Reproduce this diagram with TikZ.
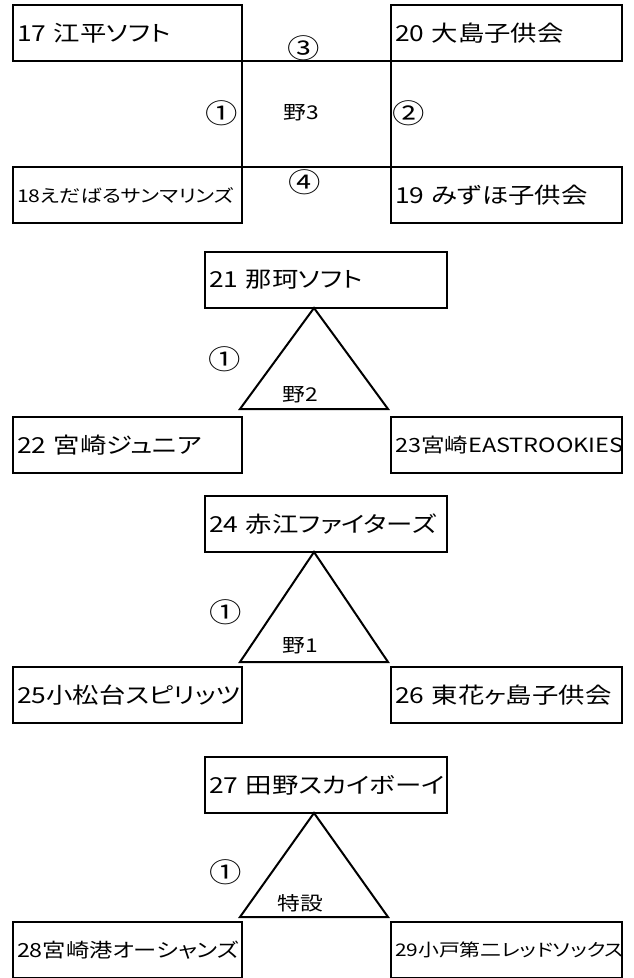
\documentclass[tikz,border=0pt]{standalone}
\usepackage{fontspec}
\newfontfamily\jpfont[FakeStretch=1.2,RawFeature=+palt]{Noto Sans CJK JP}
\usetikzlibrary{positioning}

\begin{document}
\begin{tikzpicture}[x=1pt,y=-1pt,font=\jpfont,
  fs/.style={font=\jpfont\fontsize{#1}{#1}\selectfont},
  team/.style={draw,line width=2.6pt,anchor=north west,minimum height=56pt,inner xsep=4pt,inner ysep=0pt,outer sep=0pt,align=left,fs=22},
  teamL/.style={team,text width=221pt},
  teamR/.style={team,text width=223pt},
  teamM/.style={team,text width=234pt},
  link/.style={line width=2.6pt},
  tri/.style={line width=2pt,line join=miter},
  num/.style={fs=27,inner sep=0pt},
  field/.style={fs=19,inner sep=0pt}]
\useasboundingbox (0,0) rectangle (633,978);

% field 3
\node[teamL] (t17) at (13,5) {17~江平ソフト};
\node[teamR,right=149pt of t17] (t20) {20~大島子供会};
\node[teamL] (t18) at (13,167) {\fontsize{17.6}{18}\selectfont 18えだばるサンマリンズ};
\node[teamR,right=149pt of t18] (t19) {19~みずほ子供会};
\draw[link] (t17.south east) -- (t20.south west);
\draw[link] (t18.north east) -- (t19.north west);
\draw[link] (t17.south east) -- (t18.north east);
\draw[link] (t20.south west) -- (t19.north west);
\node[num] (c3a) at (304,48) {③};
\node[num] (c1a) at (222,113) {①};
\node[field] (f3) at (301,113) {野3};
\node[num] (c2a) at (409,113) {②};
\node[num] (c4a) at (305,182) {④};

% field 2
\node[teamM] (t21) at (205,252) {21~那珂ソフト};
\node[teamL] (t22) at (13,417) {22~宮崎ジュニア};
\node[teamR,right=149pt of t22] (t23) {\fontsize{19.6}{20}\selectfont 23宮崎EASTROOKIES};
\draw[tri] (314,308) coordinate (p21) -- (388,409) coordinate (q21) -- (240,409) coordinate (r21) -- cycle;
\node[num] (c1b) at (225,359) {①};
\node[field] (f2) at (300,395) {野2};

% field 1
\node[teamM] (t24) at (205,496) {24~赤江ファイターズ};
\node[teamL] (t25) at (13,667) {25小松台スピリッツ};
\node[teamR,right=149pt of t25] (t26) {26~東花ヶ島子供会};
\draw[tri] (314,552) coordinate (p24) -- (388,662) coordinate (q24) -- (240,662) coordinate (r24) -- cycle;
\node[num] (c1c) at (226,612) {①};
\node[field] (f1) at (300,646) {野1};

% special
\node[teamM] (t27) at (205,757) {27~田野スカイボーイ};
\node[teamL] (t28) at (13,922) {\fontsize{19.4}{20}\selectfont 28宮崎港オーシャンズ};
\node[teamR,right=149pt of t28] (t29) {\fontsize{17.4}{18}\selectfont 29小戸第二レッドソックス};
\draw[tri] (314,813) coordinate (p27) -- (388,917) coordinate (q27) -- (240,917) coordinate (r27) -- cycle;
\node[num] (c1d) at (226,872) {①};
\node[field] (fs1) at (300,903) {特設};
\end{tikzpicture}
\end{document}
